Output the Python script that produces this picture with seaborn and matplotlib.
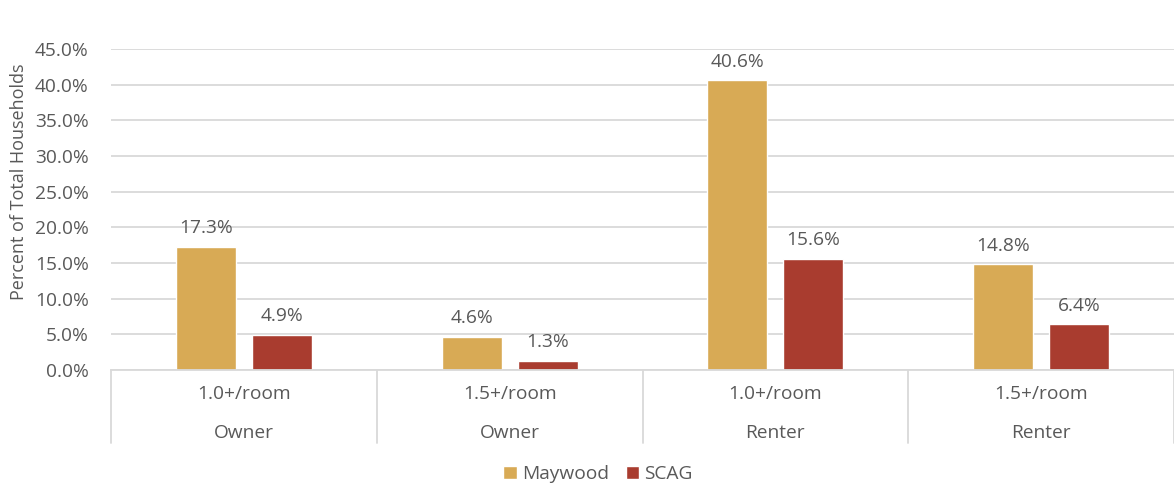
import matplotlib
matplotlib.use("Agg")
import matplotlib.pyplot as plt
import seaborn as sns
import pandas as pd
from matplotlib.patches import Patch
from matplotlib.transforms import blended_transform_factory

# ---- data ----
crowding = ["1.0+/room", "1.5+/room", "1.0+/room", "1.5+/room"]
tenure = ["Owner", "Owner", "Renter", "Renter"]
maywood = [17.3, 4.6, 40.6, 14.8]
scag = [4.9, 1.3, 15.6, 6.4]
series_names = ["Maywood", "SCAG"]
yticks = [0, 5, 10, 15, 20, 25, 30, 35, 40, 45]

colors = ["#D8AA55", "#A93C2F"]
text_color = "#595959"
grid_color = "#D9D9D9"

cats = [f"{c}\n{t}\n{i}" for i, (c, t) in enumerate(zip(crowding, tenure))]
df = pd.DataFrame({
    "cat": cats * 2,
    "value": maywood + scag,
    "series": [series_names[0]] * 4 + [series_names[1]] * 4,
})

sns.set_theme(style="white")
plt.rcParams["font.family"] = ["Open Sans", "DejaVu Sans"]

fig = plt.figure(figsize=(11.74, 4.83), dpi=100)
ax = fig.add_axes([111 / 1174, 1 - 370 / 483, 1 - 111 / 1174, 321 / 483])

sns.barplot(data=df, x="cat", y="value", hue="series", palette=colors,
            width=0.572, gap=0.21, ax=ax, legend=False, saturation=1)

fs = 13.8
ax.set_ylim(0, 45)
ax.set_xlim(-0.5, 3.5)
ax.set_yticks(yticks)
ax.set_yticklabels([f"{v:.1f}%" for v in yticks], color=text_color, fontsize=fs)
ax.tick_params(axis="y", length=0, pad=16)
ax.yaxis.grid(True, color=grid_color, linewidth=1.3)
ax.set_axisbelow(True)
for s in ["top", "right", "left"]:
    ax.spines[s].set_visible(False)
ax.spines["bottom"].set_color(grid_color)
ax.spines["bottom"].set_linewidth(1.3)
ax.set_xticks([])
ax.set_xlabel("")
ax.set_ylabel("Percent of Total Households", color=text_color, fontsize=13, labelpad=4)
ax.yaxis.set_label_coords(-0.078, 0.585)

for cont in ax.containers:
    ax.bar_label(cont, fmt="%.1f%%", padding=7, color=text_color, fontsize=fs)

# two-level category axis
tr = blended_transform_factory(ax.transData, ax.transAxes)
for i, (c, t) in enumerate(zip(crowding, tenure)):
    ax.text(i, -24 / 321, c, transform=tr, ha="center", va="center",
            color=text_color, fontsize=fs)
    ax.text(i, -63 / 321, t, transform=tr, ha="center", va="center",
            color=text_color, fontsize=fs)
for b in [-0.5, 0.5, 1.5, 2.5, 3.5]:
    ax.plot([b, b], [0, -73 / 321], transform=tr, color=grid_color,
            linewidth=1.3, clip_on=False)

handles = [Patch(facecolor=colors[0], label=series_names[0]),
           Patch(facecolor=colors[1], label=series_names[1])]
fig.legend(handles=handles, loc="center", bbox_to_anchor=(598 / 1174, 1 - 474 / 483),
           ncol=2, frameon=False, fontsize=fs, handlelength=0.7, handleheight=0.7,
           handletextpad=0.25, columnspacing=0.9, labelcolor=text_color)

fig.savefig("out.png", dpi=100)
